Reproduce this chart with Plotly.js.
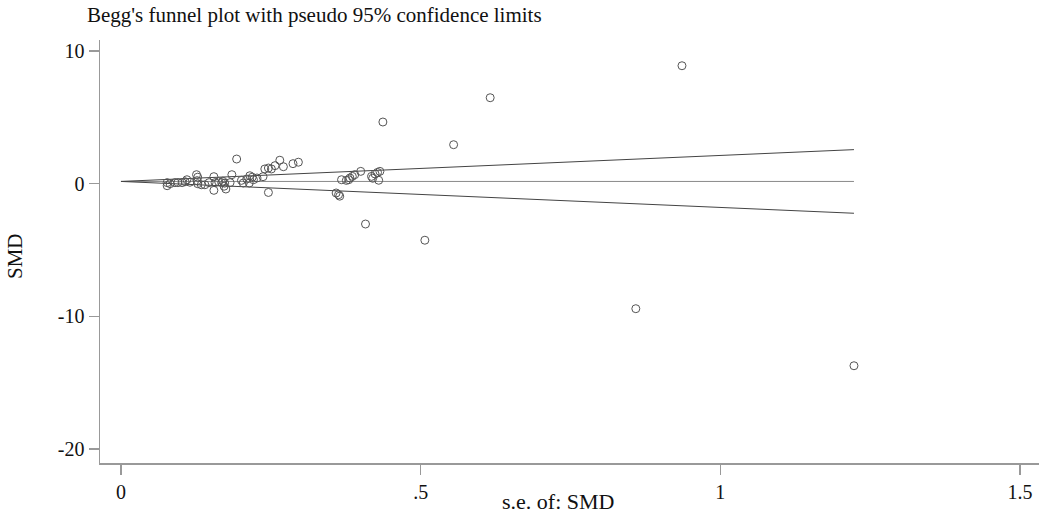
<!DOCTYPE html>
<html>
<head>
<meta charset="utf-8">
<script src="https://cdn.plot.ly/plotly-3.0.1.min.js"></script>
<style>html,body{margin:0;padding:0;background:#fff;}#chart{width:1039px;height:514px;}</style>
</head>
<body>
<div id="chart"></div>
<script>
// Study standard errors (x) and standardized mean differences (y)
var se = [0.077,0.077,0.082,0.090,0.095,0.102,0.107,0.110,0.115,0.126,0.128,0.127,0.128,0.134,0.140,0.147,
  0.155,0.157,0.155,0.163,0.168,0.170,0.173,0.172,0.175,0.185,0.182,0.193,0.201,0.204,0.210,0.215,0.219,0.214,
  0.221,0.227,0.237,0.240,0.246,0.251,0.257,0.265,0.271,0.287,0.296,0.246,
  0.359,0.363,0.365,0.368,0.376,0.380,0.382,0.386,0.390,0.400,0.418,0.424,0.428,0.432,0.430,0.420,
  0.437,0.555,0.616,0.936,0.408,0.507,0.859,1.223];
var smd = [0.08,-0.15,0.00,0.08,0.08,0.08,0.15,0.30,0.11,0.68,0.49,0.23,0.00,-0.08,-0.08,0.08,
  0.53,0.08,-0.50,0.15,0.08,0.19,0.04,-0.19,-0.40,0.68,0.08,1.86,0.25,0.05,0.35,0.60,0.49,0.05,
  0.30,0.43,0.53,1.11,1.18,1.11,1.36,1.77,1.28,1.51,1.62,-0.66,
  -0.70,-0.83,-0.94,0.30,0.25,0.30,0.43,0.55,0.68,0.93,0.55,0.73,0.85,0.93,0.26,0.41,
  4.65,2.94,6.48,8.89,-3.04,-4.26,-9.42,-13.72];
var theta = 0.17;        // pooled estimate
var zCrit = 1.96;        // pseudo 95% limits
var xTickVals = [0, 0.5, 1, 1.5];
var xTickText = ['0', '.5', '1', '1.5'];
var yTickVals = [10, 0, -10, -20];
var yTickText = ['10', '0', '-10', '-20'];

var seMax = Math.max.apply(null, se);
var lineX = [0, seMax];
var upper = lineX.map(function(s){ return theta + zCrit * s; });
var lower = lineX.map(function(s){ return theta - zCrit * s; });
var center = lineX.map(function(){ return theta; });

var serif = 'Liberation Serif, Times New Roman, serif';

var traces = [
  {x: lineX, y: center, mode: 'lines', line: {color: '#8a8a8a', width: 1}, hoverinfo: 'skip'},
  {x: lineX, y: upper, mode: 'lines', line: {color: '#444', width: 1}, hoverinfo: 'skip'},
  {x: lineX, y: lower, mode: 'lines', line: {color: '#444', width: 1}, hoverinfo: 'skip'},
  {x: se, y: smd, mode: 'markers', marker: {symbol: 'circle-open', size: 8, color: '#555', line: {width: 1, color: '#555'}}}
];

var layout = {
  width: 1039, height: 514,
  margin: {l: 100, r: 0, t: 40, b: 51},
  showlegend: false,
  paper_bgcolor: '#fff', plot_bgcolor: '#fff',
  font: {family: serif, color: '#111', size: 20},
  xaxis: {
    range: [-0.035, 1.5317], showgrid: false, zeroline: false,
    showline: true, linecolor: '#999', linewidth: 1.5,
    ticks: 'outside', ticklen: 10, tickcolor: '#999', tickwidth: 1.5,
    tickvals: xTickVals, ticktext: xTickText,
    tickfont: {family: serif, size: 20, color: '#111'}
  },
  yaxis: {
    range: [-21.05, 10.83], showgrid: false, zeroline: false,
    showline: true, linecolor: '#999', linewidth: 1.5,
    ticks: 'outside', ticklen: 10, tickcolor: '#999', tickwidth: 1.5,
    tickvals: yTickVals, ticktext: yTickText,
    tickfont: {family: serif, size: 20, color: '#111'}
  },
  annotations: [
    {text: "Begg's funnel plot with pseudo 95% confidence limits", xref: 'paper', yref: 'paper',
     x: (85-100)/939, y: 1, yshift: 25, xanchor: 'left', yanchor: 'middle', showarrow: false,
     font: {family: serif, size: 21, color: '#111'}},
    {text: 's.e. of: SMD', xref: 'paper', yref: 'paper', x: (558-100)/939, y: 0, yshift: -38,
     xanchor: 'center', yanchor: 'middle', showarrow: false, font: {family: serif, size: 22, color: '#111'}},
    {text: 'SMD', xref: 'paper', yref: 'paper', x: (15-100)/939, y: (463-256)/423, textangle: -90,
     xanchor: 'center', yanchor: 'middle', showarrow: false, font: {family: serif, size: 21, color: '#111'}}
  ]
};

Plotly.newPlot('chart', traces, layout, {displayModeBar: false, staticPlot: true});
</script>
</body>
</html>
